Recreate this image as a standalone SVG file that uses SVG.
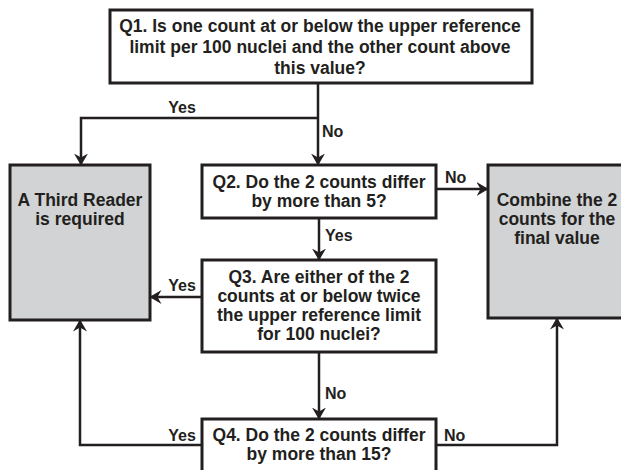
<svg xmlns="http://www.w3.org/2000/svg" width="621" height="470" viewBox="0 0 621 470">
<defs>
<marker id="arr" markerUnits="userSpaceOnUse" viewBox="0 0 12 14" markerWidth="12" markerHeight="14" refX="11.5" refY="7" orient="auto">
<path d="M0,0 L12,7 L0,14 L4,7 z" fill="#231f20"/>
</marker>
<style>
.box{fill:#fff;stroke:#231f20;stroke-width:3}
.gray{fill:#d1d3d4;stroke:#231f20;stroke-width:3}
.t{font-family:"Liberation Sans",Arial,sans-serif;font-weight:bold;font-size:17.5px;fill:#231f20;text-anchor:middle}
.lbl{font-family:"Liberation Sans",Arial,sans-serif;font-weight:bold;font-size:16px;fill:#231f20}
.c{fill:none;stroke:#231f20;stroke-width:2.5;marker-end:url(#arr)}
</style>
</defs>
<g id="connectors">
<path class="c" d="M318,83 V165"/>
<path class="c" d="M318,118 H81 V165"/>
<path class="c" d="M436,189 H488"/>
<path class="c" d="M319,218 V260"/>
<path class="c" d="M202,297 H150"/>
<path class="c" d="M319,352 V419"/>
<path class="c" d="M202,445 H80 V320"/>
<path class="c" d="M436,445 H557 V318"/>
<text class="lbl" x="182" y="113" text-anchor="middle">Yes</text>
<text class="lbl" x="322" y="137">No</text>
<text class="lbl" x="445" y="183">No</text>
<text class="lbl" x="325" y="241">Yes</text>
<text class="lbl" x="182" y="291" text-anchor="middle">Yes</text>
<text class="lbl" x="325" y="399">No</text>
<text class="lbl" x="182" y="441" text-anchor="middle">Yes</text>
<text class="lbl" x="444" y="441">No</text>
</g>
<g id="q1">
<rect class="box" x="110" y="10" width="422" height="73"/>
<text class="t" x="320" y="32">Q1. Is one count at or below the upper reference</text>
<text class="t" x="320" y="53">limit per 100 nuclei and the other count above</text>
<text class="t" x="320" y="74">this value?</text>
</g>
<g id="third-reader">
<rect class="gray" x="10" y="165" width="140" height="155"/>
<text class="t" x="80" y="206">A Third Reader</text>
<text class="t" x="80" y="225">is required</text>
</g>
<g id="q2">
<rect class="box" x="202" y="165" width="234" height="53"/>
<text class="t" x="319" y="188">Q2. Do the 2 counts differ</text>
<text class="t" x="319" y="207">by more than 5?</text>
</g>
<g id="combine">
<rect class="gray" x="488" y="165" width="140" height="153"/>
<text class="t" x="557" y="206">Combine the 2</text>
<text class="t" x="557" y="225">counts for the</text>
<text class="t" x="557" y="244">final value</text>
</g>
<g id="q3">
<rect class="box" x="202" y="260" width="234" height="92"/>
<text class="t" x="319" y="283">Q3. Are either of the 2</text>
<text class="t" x="319" y="302">counts at or below twice</text>
<text class="t" x="319" y="321">the upper reference limit</text>
<text class="t" x="319" y="340">for 100 nuclei?</text>
</g>
<g id="q4">
<rect class="box" x="202" y="419" width="234" height="60"/>
<text class="t" x="319" y="441">Q4. Do the 2 counts differ</text>
<text class="t" x="319" y="460">by more than 15?</text>
</g>
</svg>
